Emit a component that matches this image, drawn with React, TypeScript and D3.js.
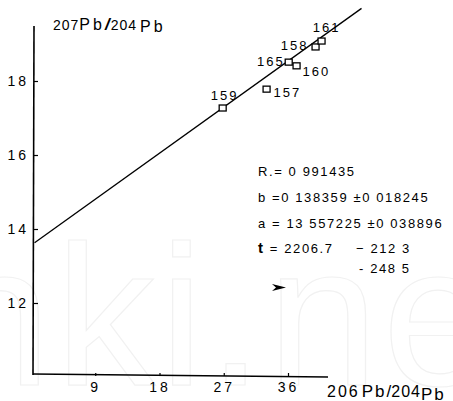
import { useRef, useEffect } from 'react';
import * as d3 from 'd3';

// sample labels and their 206Pb/204Pb, 207Pb/204Pb ratios
const SAMPLES = ['159', '157', '165', '160', '158', '161'];
const X_VALUES = [26.85, 33.0, 36.1, 37.2, 39.86, 40.7];
const Y_VALUES = [17.27, 17.78, 18.51, 18.41, 18.92, 19.08];

const X_TICKS = [9, 18, 27, 36];
const Y_TICKS = [12, 14, 16, 18];

// regression parameters
const SLOPE = 0.138359;
const INTERCEPT = 13.557225;
const LINE_X = [0.5, 46.3];

const STATS = [
  'R.= 0 991435',
  'b =0 138359 ±0 018245',
  'a = 13 557225 ±0 038896',
];

const W = 453;
const H = 401;
const FONT = '"Liberation Sans", Arial, sans-serif';

// label placement next to each box: dx, dy, anchor
const LABEL_POS: Record<string, [number, number, string]> = {
  '159': [2, -8, 'middle'],
  '157': [7, 8, 'start'],
  '165': [-4, 4, 'end'],
  '160': [6, 10, 'start'],
  '158': [-7, 3, 'end'],
  '161': [5, -9, 'middle'],
};

export default function App() {
  const svgRef = useRef<SVGSVGElement>(null);

  useEffect(() => {
    if (!svgRef.current) return;
    const svg = d3.select(svgRef.current);
    svg.selectAll('*').remove();

    const x = d3.scaleLinear().domain([0, 36]).range([31, 288]);
    const y = d3.scaleLinear().domain([12, 18]).range([303, 81]);

    svg.append('rect').attr('width', W).attr('height', H).attr('fill', '#fff');

    // faint watermark
    svg.append('text')
      .attr('x', -60).attr('y', 385)
      .attr('font-family', FONT).attr('font-size', 200)
      .attr('fill', 'none').attr('stroke', '#f1f1f1').attr('stroke-width', 1.2)
      .attr('letter-spacing', 4)
      .text('nki.net');

    // axis lines
    svg.append('line')
      .attr('x1', 34).attr('y1', 26).attr('x2', 33).attr('y2', 375)
      .attr('stroke', '#000').attr('stroke-width', 1.6);
    svg.append('line')
      .attr('x1', 33).attr('y1', 374).attr('x2', 328).attr('y2', 377)
      .attr('stroke', '#000').attr('stroke-width', 1.6);

    const yAxis = svg.append('g').attr('transform', 'translate(34,0)')
      .call(d3.axisLeft(y).tickValues(Y_TICKS).tickSize(-4).tickPadding(5).tickFormat(d3.format('d')));
    yAxis.select('.domain').remove();
    yAxis.selectAll('text')
      .style('font-family', FONT).style('font-size', '14px').style('fill', '#000')
      .attr('letter-spacing', 3);
    yAxis.selectAll('line').style('stroke', '#000').style('stroke-width', 1.2);

    const xAxis = svg.append('g').attr('transform', 'translate(0,376)')
      .call(d3.axisBottom(x).tickValues(X_TICKS).tickSize(-3).tickPadding(6).tickFormat(d3.format('d')));
    xAxis.select('.domain').remove();
    xAxis.selectAll('text')
      .style('font-family', FONT).style('font-size', '14px').style('fill', '#000')
      .attr('letter-spacing', 3);
    xAxis.selectAll('line').style('stroke', '#000').style('stroke-width', 1.2);

    // axis titles
    const yt = svg.append('text')
      .attr('x', 53).attr('y', 30)
      .attr('font-family', FONT).attr('fill', '#000');
    yt.append('tspan').attr('font-size', 14).attr('letter-spacing', 1).text('207');
    yt.append('tspan').attr('font-size', 16).attr('letter-spacing', 3).text('Pb');
    yt.append('tspan').attr('font-size', 17).attr('font-weight', 'bold').attr('font-style', 'italic').text('/');
    yt.append('tspan').attr('font-size', 14).attr('letter-spacing', 1).attr('dx', 1).text('204');
    yt.append('tspan').attr('font-size', 16).attr('letter-spacing', 3).attr('dx', 3).attr('dy', 2).text('Pb');

    const xt = svg.append('text')
      .attr('x', 327).attr('y', 397)
      .attr('font-family', FONT).attr('fill', '#000');
    xt.append('tspan').attr('font-size', 16).attr('letter-spacing', 2).text('206');
    xt.append('tspan').attr('font-size', 17).attr('letter-spacing', 2).attr('dx', 2).text('Pb');
    xt.append('tspan').attr('font-size', 17).text('/');
    xt.append('tspan').attr('font-size', 16).attr('letter-spacing', 1).text('204');
    xt.append('tspan').attr('font-size', 17).attr('letter-spacing', 2).attr('dy', 3).text('Pb');

    // isochron line
    const line = d3.line<number>()
      .x(d => x(d))
      .y(d => y(INTERCEPT + SLOPE * d));
    svg.append('path')
      .attr('d', line(LINE_X))
      .attr('fill', 'none').attr('stroke', '#000').attr('stroke-width', 1.3);

    // sample boxes and labels
    const pts = SAMPLES.map((s, i) => ({ s, x: X_VALUES[i], y: Y_VALUES[i] }));
    svg.selectAll('rect.pt').data(pts).enter().append('rect')
      .attr('class', 'pt')
      .attr('x', d => x(d.x) - 3.5).attr('y', d => y(d.y) - 3)
      .attr('width', 7).attr('height', 6)
      .attr('fill', '#fff').attr('stroke', '#000').attr('stroke-width', 1.3);
    svg.selectAll('text.lbl').data(pts).enter().append('text')
      .attr('class', 'lbl')
      .attr('x', d => x(d.x) + LABEL_POS[d.s][0])
      .attr('y', d => y(d.y) + LABEL_POS[d.s][1])
      .attr('text-anchor', d => LABEL_POS[d.s][2])
      .attr('font-family', FONT).attr('font-size', 13).attr('letter-spacing', 2)
      .attr('fill', '#000')
      .text(d => d.s);

    // regression statistics
    STATS.forEach((t, i) => {
      svg.append('text')
        .attr('x', 258).attr('y', 176 + i * 26)
        .attr('font-family', FONT).attr('font-size', 13).attr('letter-spacing', 1.6)
        .attr('fill', '#000')
        .text(t);
    });
    svg.append('text')
      .attr('x', 258).attr('y', 253)
      .attr('font-family', FONT).attr('font-size', 13).attr('letter-spacing', 1.6)
      .attr('fill', '#000')
      .call(t => {
        t.append('tspan').attr('font-weight', 'bold').attr('font-size', 15).text('t');
        t.append('tspan').text(' = 2206.7');
      });
    svg.append('text')
      .attr('x', 356).attr('y', 253)
      .attr('font-family', FONT).attr('font-size', 13).attr('letter-spacing', 1.6)
      .attr('fill', '#000').text('− 212 3');
    svg.append('text')
      .attr('x', 359).attr('y', 273)
      .attr('font-family', FONT).attr('font-size', 13).attr('letter-spacing', 1.6)
      .attr('fill', '#000').text('- 248 5');

    // small arrow mark
    svg.append('path')
      .attr('d', 'M272,284 L286,287.5 L272,291 L276,287.5 Z')
      .attr('fill', '#000');
  }, []);

  return (
    <div style={{ position: 'absolute', left: 0, top: 0 }}>
      <svg ref={svgRef} width={W} height={H} style={{ display: 'block' }} />
    </div>
  );
}
